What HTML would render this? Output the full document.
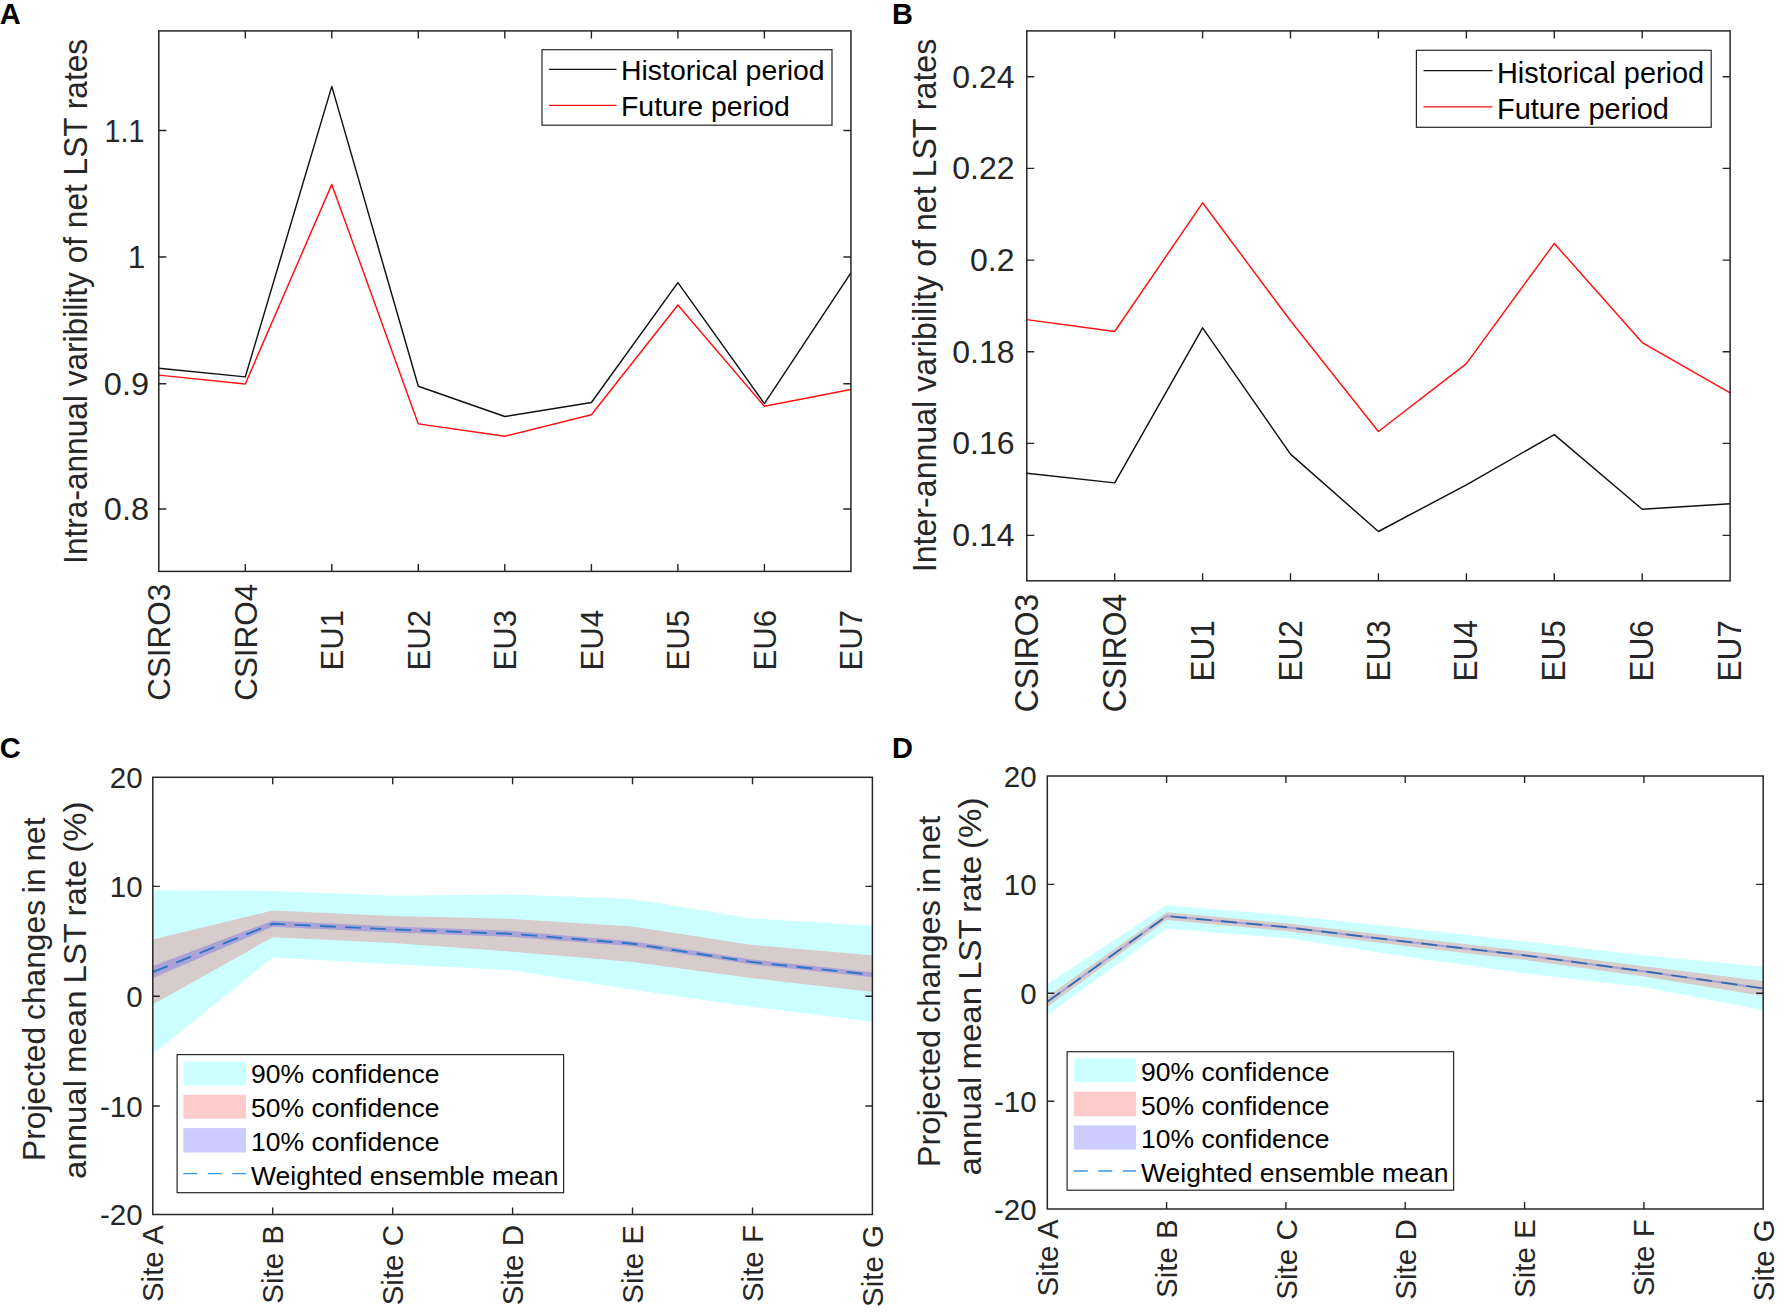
<!DOCTYPE html>
<html lang="en">
<head>
<meta charset="utf-8">
<title>Variability of net LST rates and projected changes</title>
<style>
html,body{margin:0;padding:0;background:#fff}
body{width:1785px;height:1313px;overflow:hidden}
svg{display:block;font-family:"Liberation Sans", Arial, Helvetica, sans-serif}
</style>
</head>
<body>
<svg width="1785" height="1313" viewBox="0 0 1785 1313">
<rect width="1785" height="1313" fill="#fff"/>
<polyline points="158.8,368.3 245.3,376.9 331.8,86.4 418.3,386.3 504.8,416.5 591.4,402.5 677.9,282.6 764.4,403.6 850.9,272.9" fill="none" stroke="#111" stroke-width="1.45" stroke-linejoin="round"/>
<polyline points="158.8,375.1 245.3,384 331.8,184.4 418.3,423.9 504.8,436.2 591.4,414.8 677.9,305 764.4,406.3 850.9,389.5" fill="none" stroke="#ff1010" stroke-width="1.45" stroke-linejoin="round"/>
<rect x="158.8" y="30.9" width="692.1" height="540.5" fill="none" stroke="#262626" stroke-width="1.5"/>
<path d="M245.3 571.4v-7.5M245.3 30.9v7.5M331.8 571.4v-7.5M331.8 30.9v7.5M418.3 571.4v-7.5M418.3 30.9v7.5M504.8 571.4v-7.5M504.8 30.9v7.5M591.4 571.4v-7.5M591.4 30.9v7.5M677.9 571.4v-7.5M677.9 30.9v7.5M764.4 571.4v-7.5M764.4 30.9v7.5M158.8 130.5h7.5M850.9 130.5h-7.5M158.8 257h7.5M850.9 257h-7.5M158.8 383.7h7.5M850.9 383.7h-7.5M158.8 509h7.5M850.9 509h-7.5" fill="none" stroke="#262626" stroke-width="1.4"/>
<text x="144.6" y="141.8" font-size="31.5" text-anchor="end" fill="#262626" textLength="40" lengthAdjust="spacingAndGlyphs">1.1</text>
<text x="145.2" y="268.3" font-size="31.5" text-anchor="end" fill="#262626">1</text>
<text x="149" y="395" font-size="31.5" text-anchor="end" fill="#262626" textLength="45.2" lengthAdjust="spacingAndGlyphs">0.9</text>
<text x="149" y="520.3" font-size="31.5" text-anchor="end" fill="#262626" textLength="45.2" lengthAdjust="spacingAndGlyphs">0.8</text>
<text transform="translate(170 642.3) rotate(-90)" font-size="32" text-anchor="middle" fill="#262626" textLength="117" lengthAdjust="spacingAndGlyphs">CSIRO3</text>
<text transform="translate(256.5 642.3) rotate(-90)" font-size="32" text-anchor="middle" fill="#262626" textLength="117" lengthAdjust="spacingAndGlyphs">CSIRO4</text>
<text transform="translate(343 640.2) rotate(-90)" font-size="32" text-anchor="middle" fill="#262626" textLength="60.5" lengthAdjust="spacingAndGlyphs">EU1</text>
<text transform="translate(429.5 640.2) rotate(-90)" font-size="32" text-anchor="middle" fill="#262626" textLength="60.5" lengthAdjust="spacingAndGlyphs">EU2</text>
<text transform="translate(516 640.2) rotate(-90)" font-size="32" text-anchor="middle" fill="#262626" textLength="60.5" lengthAdjust="spacingAndGlyphs">EU3</text>
<text transform="translate(602.5 640.2) rotate(-90)" font-size="32" text-anchor="middle" fill="#262626" textLength="60.5" lengthAdjust="spacingAndGlyphs">EU4</text>
<text transform="translate(689 640.2) rotate(-90)" font-size="32" text-anchor="middle" fill="#262626" textLength="60.5" lengthAdjust="spacingAndGlyphs">EU5</text>
<text transform="translate(775.5 640.2) rotate(-90)" font-size="32" text-anchor="middle" fill="#262626" textLength="60.5" lengthAdjust="spacingAndGlyphs">EU6</text>
<text transform="translate(862.1 640.2) rotate(-90)" font-size="32" text-anchor="middle" fill="#262626" textLength="60.5" lengthAdjust="spacingAndGlyphs">EU7</text>
<text transform="translate(87.4 301.4) rotate(-90)" font-size="33" text-anchor="middle" fill="#262626" textLength="525" lengthAdjust="spacingAndGlyphs">Intra-annual varibility of net LST rates</text>
<text x="-0.3" y="24" font-size="29" font-weight="bold" fill="#000">A</text>
<rect x="542" y="49.7" width="290" height="75.5" fill="#fff" stroke="#262626" stroke-width="1.2"/>
<path d="M549 69.4H616.5" stroke="#111" stroke-width="1.4"/>
<text x="621" y="80.3" font-size="28.4" fill="#000">Historical period</text>
<path d="M549 105.4H616.5" stroke="#ff1010" stroke-width="1.4"/>
<text x="621" y="116.3" font-size="28.4" fill="#000">Future period</text>
<polyline points="1026.8,473.3 1114.7,482.9 1202.6,327.8 1290.5,454.1 1378.4,531.5 1466.4,484.8 1554.3,434.6 1642.2,509.2 1730.1,503.7" fill="none" stroke="#111" stroke-width="1.45" stroke-linejoin="round"/>
<polyline points="1026.8,319.6 1114.7,331.5 1202.6,202.8 1290.5,320.8 1378.4,431.5 1466.4,363.6 1554.3,243.4 1642.2,342.6 1730.1,392.8" fill="none" stroke="#ff1010" stroke-width="1.45" stroke-linejoin="round"/>
<rect x="1026.8" y="30.9" width="703.3" height="549.9" fill="none" stroke="#262626" stroke-width="1.5"/>
<path d="M1114.7 580.8v-7.5M1114.7 30.9v7.5M1202.6 580.8v-7.5M1202.6 30.9v7.5M1290.5 580.8v-7.5M1290.5 30.9v7.5M1378.4 580.8v-7.5M1378.4 30.9v7.5M1466.4 580.8v-7.5M1466.4 30.9v7.5M1554.3 580.8v-7.5M1554.3 30.9v7.5M1642.2 580.8v-7.5M1642.2 30.9v7.5M1026.8 76.7h7.5M1730.1 76.7h-7.5M1026.8 168.4h7.5M1730.1 168.4h-7.5M1026.8 260.1h7.5M1730.1 260.1h-7.5M1026.8 351.8h7.5M1730.1 351.8h-7.5M1026.8 443.4h7.5M1730.1 443.4h-7.5M1026.8 535.4h7.5M1730.1 535.4h-7.5" fill="none" stroke="#262626" stroke-width="1.4"/>
<text x="1014.5" y="87.5" font-size="32" text-anchor="end" fill="#262626">0.24</text>
<text x="1014.5" y="179.2" font-size="32" text-anchor="end" fill="#262626">0.22</text>
<text x="1014.5" y="270.9" font-size="32" text-anchor="end" fill="#262626">0.2</text>
<text x="1014.5" y="362.6" font-size="32" text-anchor="end" fill="#262626">0.18</text>
<text x="1014.5" y="454.2" font-size="32" text-anchor="end" fill="#262626">0.16</text>
<text x="1014.5" y="546.2" font-size="32" text-anchor="end" fill="#262626">0.14</text>
<text transform="translate(1037.8 653) rotate(-90)" font-size="32.5" text-anchor="middle" fill="#262626" textLength="118.3" lengthAdjust="spacingAndGlyphs">CSIRO3</text>
<text transform="translate(1125.7 653) rotate(-90)" font-size="32.5" text-anchor="middle" fill="#262626" textLength="118.3" lengthAdjust="spacingAndGlyphs">CSIRO4</text>
<text transform="translate(1213.7 650.8) rotate(-90)" font-size="32.5" text-anchor="middle" fill="#262626" textLength="61.5" lengthAdjust="spacingAndGlyphs">EU1</text>
<text transform="translate(1301.6 650.8) rotate(-90)" font-size="32.5" text-anchor="middle" fill="#262626" textLength="61.5" lengthAdjust="spacingAndGlyphs">EU2</text>
<text transform="translate(1389.5 650.8) rotate(-90)" font-size="32.5" text-anchor="middle" fill="#262626" textLength="61.5" lengthAdjust="spacingAndGlyphs">EU3</text>
<text transform="translate(1477.4 650.8) rotate(-90)" font-size="32.5" text-anchor="middle" fill="#262626" textLength="61.5" lengthAdjust="spacingAndGlyphs">EU4</text>
<text transform="translate(1565.3 650.8) rotate(-90)" font-size="32.5" text-anchor="middle" fill="#262626" textLength="61.5" lengthAdjust="spacingAndGlyphs">EU5</text>
<text transform="translate(1653.2 650.8) rotate(-90)" font-size="32.5" text-anchor="middle" fill="#262626" textLength="61.5" lengthAdjust="spacingAndGlyphs">EU6</text>
<text transform="translate(1741.1 650.8) rotate(-90)" font-size="32.5" text-anchor="middle" fill="#262626" textLength="61.5" lengthAdjust="spacingAndGlyphs">EU7</text>
<text transform="translate(936.2 305.5) rotate(-90)" font-size="33.7" text-anchor="middle" fill="#262626" textLength="533.5" lengthAdjust="spacingAndGlyphs">Inter-annual varibility of net LST rates</text>
<text x="891.9" y="24" font-size="29" font-weight="bold" fill="#000">B</text>
<rect x="1416.4" y="50.3" width="294.8" height="77" fill="#fff" stroke="#262626" stroke-width="1.2"/>
<path d="M1423.5 70.6H1492.5" stroke="#111" stroke-width="1.4"/>
<text x="1497" y="82.5" font-size="28.9" fill="#000">Historical period</text>
<path d="M1423.5 106.9H1492.5" stroke="#ff1010" stroke-width="1.4"/>
<text x="1497" y="118.8" font-size="28.9" fill="#000">Future period</text>
<polygon points="152.8,890.2 272.7,890.9 392.7,895.8 512.6,894.4 632.5,899 752.5,918.5 872.4,925.8 872.4,1021.8 752.5,1006.9 632.5,989.7 512.6,970.2 392.7,964.2 272.7,957.5 152.8,1054.3" fill="#00ffff" fill-opacity="0.2"/>
<polygon points="152.8,939.5 272.7,910.4 392.7,916 512.6,918.9 632.5,926.5 752.5,944.9 872.4,955.2 872.4,992 752.5,978.2 632.5,962.1 512.6,951.8 392.7,942.9 272.7,937.3 152.8,1004.6" fill="#ff0000" fill-opacity="0.2"/>
<polygon points="152.8,966 272.7,920.8 392.7,926.4 512.6,930.9 632.5,941.2 752.5,959.6 872.4,972.3 872.4,977.3 752.5,964.6 632.5,946.2 512.6,936.9 392.7,932.4 272.7,926.8 152.8,978" fill="#0000ff" fill-opacity="0.2"/>
<polyline points="152.8,972 272.7,923.8 392.7,929.4 512.6,933.9 632.5,943.7 752.5,962.1 872.4,974.8" fill="none" stroke="#2b74c6" stroke-width="1.9" stroke-dasharray="16 9.2"/>
<rect x="152.8" y="777.3" width="719.6" height="437.2" fill="none" stroke="#262626" stroke-width="1.5"/>
<path d="M272.7 1214.5v-7M272.7 777.3v7M392.7 1214.5v-7M392.7 777.3v7M512.6 1214.5v-7M512.6 777.3v7M632.5 1214.5v-7M632.5 777.3v7M752.5 1214.5v-7M752.5 777.3v7M152.8 886.4h7M872.4 886.4h-7M152.8 996.3h7M872.4 996.3h-7M152.8 1106h7M872.4 1106h-7" fill="none" stroke="#262626" stroke-width="1.4"/>
<text x="142.6" y="787.9" font-size="29.5" text-anchor="end" fill="#262626">20</text>
<text x="142.6" y="897" font-size="29.5" text-anchor="end" fill="#262626">10</text>
<text x="142.6" y="1006.9" font-size="29.5" text-anchor="end" fill="#262626">0</text>
<text x="142.6" y="1116.6" font-size="29.5" text-anchor="end" fill="#262626">-10</text>
<text x="142.6" y="1225.1" font-size="29.5" text-anchor="end" fill="#262626">-20</text>
<text transform="translate(163.4 1225) rotate(-90)" font-size="29.5" text-anchor="end" fill="#262626">Site A</text>
<text transform="translate(283.3 1225) rotate(-90)" font-size="29.5" text-anchor="end" fill="#262626">Site B</text>
<text transform="translate(403.2 1225) rotate(-90)" font-size="29.5" text-anchor="end" fill="#262626">Site C</text>
<text transform="translate(523.2 1225) rotate(-90)" font-size="29.5" text-anchor="end" fill="#262626">Site D</text>
<text transform="translate(643.1 1225) rotate(-90)" font-size="29.5" text-anchor="end" fill="#262626">Site E</text>
<text transform="translate(763 1225) rotate(-90)" font-size="29.5" text-anchor="end" fill="#262626">Site F</text>
<text transform="translate(883 1225) rotate(-90)" font-size="29.5" text-anchor="end" fill="#262626">Site G</text>
<text transform="translate(45.3 989.2) rotate(-90)" font-size="32" text-anchor="middle" fill="#262626" textLength="343.5" lengthAdjust="spacingAndGlyphs" word-spacing="-2">Projected changes in net</text>
<text transform="translate(86.2 990.2) rotate(-90)" font-size="32" text-anchor="middle" fill="#262626" textLength="377.5" lengthAdjust="spacingAndGlyphs" word-spacing="-2">annual mean LST rate (%)</text>
<text x="-0.2" y="758.4" font-size="29" font-weight="bold" fill="#000">C</text>
<rect x="177.1" y="1054.6" width="386.5" height="138.1" fill="#fff" stroke="#262626" stroke-width="1.2"/>
<rect x="183.3" y="1061.6" width="62.8" height="23.9" fill="#ccffff"/>
<rect x="183.3" y="1094.8" width="62.8" height="23.9" fill="#ffcccc"/>
<rect x="183.3" y="1128.1" width="62.8" height="24.4" fill="#ccccff"/>
<path d="M183.3 1173.7H246.1" stroke="#3f97dc" stroke-width="1.3" stroke-dasharray="14 10.5"/>
<text x="251" y="1083.3" font-size="26.5" fill="#000">90% confidence</text>
<text x="251" y="1117.4" font-size="26.5" fill="#000">50% confidence</text>
<text x="251" y="1151.3" font-size="26.5" fill="#000">10% confidence</text>
<text x="251" y="1185.2" font-size="26.5" fill="#000">Weighted ensemble mean</text>
<polygon points="1047.3,984 1166.6,905.2 1285.9,915.3 1405.2,927.9 1524.6,941.6 1643.9,955.3 1763.2,966.7 1763.2,1010.1 1643.9,987.3 1524.6,973.6 1405.2,956.5 1285.9,938 1166.6,928.7 1047.3,1015" fill="#00ffff" fill-opacity="0.2"/>
<polygon points="1047.3,996.5 1166.6,912.3 1285.9,923.3 1405.2,937.3 1524.6,950.8 1643.9,966.3 1763.2,981 1763.2,996 1643.9,976.5 1524.6,960 1405.2,946 1285.9,931 1166.6,920 1047.3,1007" fill="#ff0000" fill-opacity="0.2"/>
<polygon points="1047.3,1000.5 1166.6,915 1285.9,926 1405.2,940.5 1524.6,954.2 1643.9,970.2 1763.2,987.3 1763.2,989.5 1643.9,972.4 1524.6,956.4 1405.2,942.7 1285.9,928.2 1166.6,917.2 1047.3,1003.1" fill="#0000ff" fill-opacity="0.2"/>
<polyline points="1047.3,1001.8 1166.6,916.1 1285.9,927.1 1405.2,941.6 1524.6,955.3 1643.9,971.3 1763.2,988.4" fill="none" stroke="#2c68ad" stroke-width="1.7" stroke-dasharray="16 9.2"/>
<rect x="1047.3" y="776" width="715.9" height="433" fill="none" stroke="#262626" stroke-width="1.5"/>
<path d="M1166.6 1209v-7M1166.6 776v7M1285.9 1209v-7M1285.9 776v7M1405.2 1209v-7M1405.2 776v7M1524.6 1209v-7M1524.6 776v7M1643.9 1209v-7M1643.9 776v7M1047.3 884.4h7M1763.2 884.4h-7M1047.3 993.3h7M1763.2 993.3h-7M1047.3 1101.3h7M1763.2 1101.3h-7" fill="none" stroke="#262626" stroke-width="1.4"/>
<text x="1036.6" y="786.6" font-size="29.5" text-anchor="end" fill="#262626">20</text>
<text x="1036.6" y="895" font-size="29.5" text-anchor="end" fill="#262626">10</text>
<text x="1036.6" y="1003.9" font-size="29.5" text-anchor="end" fill="#262626">0</text>
<text x="1036.6" y="1111.9" font-size="29.5" text-anchor="end" fill="#262626">-10</text>
<text x="1036.6" y="1219.6" font-size="29.5" text-anchor="end" fill="#262626">-20</text>
<text transform="translate(1057.9 1219.3) rotate(-90)" font-size="29.5" text-anchor="end" fill="#262626">Site A</text>
<text transform="translate(1177.2 1219.3) rotate(-90)" font-size="29.5" text-anchor="end" fill="#262626">Site B</text>
<text transform="translate(1296.5 1219.3) rotate(-90)" font-size="29.5" text-anchor="end" fill="#262626">Site C</text>
<text transform="translate(1415.8 1219.3) rotate(-90)" font-size="29.5" text-anchor="end" fill="#262626">Site D</text>
<text transform="translate(1535.1 1219.3) rotate(-90)" font-size="29.5" text-anchor="end" fill="#262626">Site E</text>
<text transform="translate(1654.4 1219.3) rotate(-90)" font-size="29.5" text-anchor="end" fill="#262626">Site F</text>
<text transform="translate(1773.8 1219.3) rotate(-90)" font-size="29.5" text-anchor="end" fill="#262626">Site G</text>
<text transform="translate(940.3 991.4) rotate(-90)" font-size="32" text-anchor="middle" fill="#262626" textLength="351.5" lengthAdjust="spacingAndGlyphs" word-spacing="-2">Projected changes in net</text>
<text transform="translate(980.8 986.6) rotate(-90)" font-size="32" text-anchor="middle" fill="#262626" textLength="378" lengthAdjust="spacingAndGlyphs" word-spacing="-2">annual mean LST rate (%)</text>
<text x="891.9" y="757.7" font-size="29" font-weight="bold" fill="#000">D</text>
<rect x="1067.1" y="1051.7" width="386.5" height="138.5" fill="#fff" stroke="#262626" stroke-width="1.2"/>
<rect x="1073.8" y="1058.3" width="62.3" height="24" fill="#ccffff"/>
<rect x="1073.8" y="1091.6" width="62.3" height="24.7" fill="#ffcccc"/>
<rect x="1073.8" y="1125.4" width="62.3" height="24.2" fill="#ccccff"/>
<path d="M1073.8 1171H1136.1" stroke="#3f97dc" stroke-width="1.3" stroke-dasharray="14 10.5"/>
<text x="1141" y="1080.5" font-size="26.5" fill="#000">90% confidence</text>
<text x="1141" y="1114.5" font-size="26.5" fill="#000">50% confidence</text>
<text x="1141" y="1148.3" font-size="26.5" fill="#000">10% confidence</text>
<text x="1141" y="1182.1" font-size="26.5" fill="#000">Weighted ensemble mean</text>
</svg>
</body>
</html>
